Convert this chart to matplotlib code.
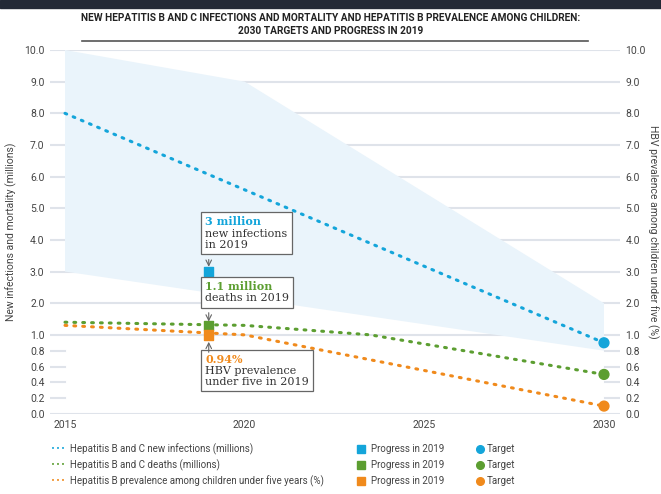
import matplotlib.pyplot as plt
import numpy as np
from matplotlib.offsetbox import TextArea, VPacker, AnnotationBbox
from matplotlib.patches import Rectangle

# données
years_blue = [2015, 2030]
new_infections = [8.0, 0.9]
years_green = [2015, 2020, 2023.5, 2030]
deaths = [1.4, 1.3, 1.0, 0.5]
years_orange = [2015, 2020, 2030]
prevalence = [1.3, 1.0, 0.1]

band_x = [2015, 2020, 2030, 2030, 2015]
band_y = [10.0, 9.0, 2.0, 0.8, 3.0]

progress_2019 = [3.0, 1.3, 1.0]
targets_2030 = [0.9, 0.5, 0.1]

yticks = [0, 0.2, 0.4, 0.6, 0.8, 1, 2, 3, 4, 5, 6, 7, 8, 9, 10]
xticks = [2015, 2020, 2025, 2030]

blue = '#14a5da'
green = '#5c9e31'
orange = '#f08a1c'
gridc = '#dfe3ea'
textc = '#444444'

cond = ['Roboto', 'DejaVu Sans']
serif = ['DejaVu Serif']

# échelle : 0-1 étiré, 1-10 linéaire
def fwd(y):
    y = np.asarray(y, float)
    return np.where(y < 1, 2.5 * y, y + 1.5)

def inv(v):
    v = np.asarray(v, float)
    return np.where(v < 2.5, v / 2.5, v - 1.5)

fig = plt.figure(figsize=(6.61, 4.94), dpi=100)
ax = fig.add_axes([50 / 661, 1 - 414 / 494, 570 / 661, 364 / 494])
ax.set_yscale('function', functions=(fwd, inv))
ax.set_xlim(2015 - 15 / 35.93, 2030 + 16 / 35.93)
ax.set_ylim(0, 10)

# bandeau sombre en haut
fig.patches.append(Rectangle((0, 1 - 8 / 494), 1, 8 / 494, transform=fig.transFigure,
                             color='#232a36', zorder=0))

fig.text(0.5, 1 - 18 / 494, 'NEW HEPATITIS B AND C INFECTIONS AND MORTALITY AND HEPATITIS B PREVALENCE AMONG CHILDREN:',
         ha='center', va='center', fontsize=7.3, fontweight='bold', family=cond, color='#222222')
fig.text(0.5, 1 - 31 / 494, '2030 TARGETS AND PROGRESS IN 2019',
         ha='center', va='center', fontsize=7.3, fontweight='bold', family=cond, color='#222222')
fig.add_artist(plt.Line2D([82 / 661, 588 / 661], [1 - 41 / 494, 1 - 41 / 494],
                          transform=fig.transFigure, color='#555555', lw=1.2))

for s in ax.spines.values():
    s.set_visible(False)

# lignes de grille
for t in yticks:
    if t == 0 or t >= 1:
        ax.axhline(t, color=gridc, lw=1.5, zorder=0)
    else:
        ax.axhline(t, xmin=0, xmax=0.027, color=gridc, lw=1.5, zorder=0)
        ax.axhline(t, xmin=0.973, xmax=1, color=gridc, lw=1.5, zorder=0)

ax.fill(band_x, band_y, color='#eaf4fb', lw=0, zorder=1)

ls = (0, (0.6, 2.3))
ax.plot(years_blue, new_infections, color=blue, lw=2.2, ls=ls, dash_capstyle='round', zorder=3)
ax.plot(years_green, deaths, color=green, lw=2.2, ls=ls, dash_capstyle='round', zorder=3)
ax.plot(years_orange, prevalence, color=orange, lw=2.2, ls=ls, dash_capstyle='round', zorder=3)

cols = [blue, green, orange]
ax.scatter([2019] * 3, progress_2019, marker='s', s=45, c=cols, zorder=5)
ax.scatter([2030] * 3, targets_2030, marker='o', s=50, c=cols, zorder=5)

labels = ['%.1f' % t for t in yticks]
ax.set_yticks(yticks)
ax.set_yticklabels(labels)
ax.set_xticks(xticks)
ax.tick_params(length=0, labelsize=7.5, labelcolor=textc, pad=4)
for lab in ax.get_xticklabels() + ax.get_yticklabels():
    lab.set_family(cond)
ax.set_ylabel('New infections and mortality (millions)', fontsize=7.5, color=textc, family=cond, labelpad=5)

ax2 = ax.twinx()
ax2.set_yscale('function', functions=(fwd, inv))
ax2.set_ylim(0, 10)
ax2.set_yticks(yticks)
ax2.set_yticklabels(labels)
ax2.tick_params(length=0, labelsize=7.5, labelcolor=textc, pad=4)
for lab in ax2.get_yticklabels():
    lab.set_family(cond)
for s in ax2.spines.values():
    s.set_visible(False)
ax2.set_ylabel('HBV prevalence among children under five (%)', fontsize=7.5, color=textc,
               family=cond, rotation=-90, labelpad=9)

# encadrés
def box(x, y, head, body, col):
    pack = VPacker(children=[TextArea(head, textprops=dict(color=col, fontweight='bold', size=8, family=serif)),
                             TextArea(body, textprops=dict(color='#333333', size=8, family=serif,
                                                           linespacing=1.1))],
                   align='left', pad=0, sep=1)
    ab = AnnotationBbox(pack, (x, y), xycoords='data', box_alignment=(0, 1), pad=0.3,
                        bboxprops=dict(ec='#666666', fc='white', lw=0.9), zorder=6)
    ax.add_artist(ab)

box(2018.9, 4.74, '3 million', 'new infections\nin 2019', blue)
box(2018.9, 2.7, '1.1 million', 'deaths in 2019', green)
box(2018.9, 0.76, '0.94%', 'HBV prevalence\nunder five in 2019', orange)

arr = dict(arrowstyle='->', color='#666666', lw=0.8, shrinkA=0, shrinkB=0)
ax.annotate('', xy=(2019, 3.15), xytext=(2019, 3.38), arrowprops=arr, zorder=6)
ax.annotate('', xy=(2019, 1.42), xytext=(2019, 1.7), arrowprops=arr, zorder=6)
ax.annotate('', xy=(2019, 1.0), xytext=(2019, 0.78), arrowprops=dict(arr, shrinkB=5), zorder=6)

# légende
legend_labels = ['Hepatitis B and C new infections (millions)',
                 'Hepatitis B and C deaths (millions)',
                 'Hepatitis B prevalence among children under five years (%)']
rows = [449, 465, 481]
for lab, col, r in zip(legend_labels, cols, rows):
    yy = 1 - r / 494
    for dx in [53, 58, 63]:
        fig.text(dx / 661, yy, '\u2022', color=col, fontsize=5, ha='center', va='center')
    fig.text(70 / 661, yy, lab, fontsize=7.0, color=textc, family=cond, va='center')
    fig.patches.append(Rectangle((357 / 661, yy - 4 / 494), 8 / 661, 8 / 494,
                                 transform=fig.transFigure, color=col))
    fig.text(371 / 661, yy, 'Progress in 2019', fontsize=7.0, color=textc, family=cond, va='center')
    fig.add_artist(plt.Line2D([480 / 661], [yy], marker='o', ms=5.5, color=col, transform=fig.transFigure))
    fig.text(487 / 661, yy, 'Target', fontsize=7.0, color=textc, family=cond, va='center')

plt.savefig('out.png', dpi=100)
